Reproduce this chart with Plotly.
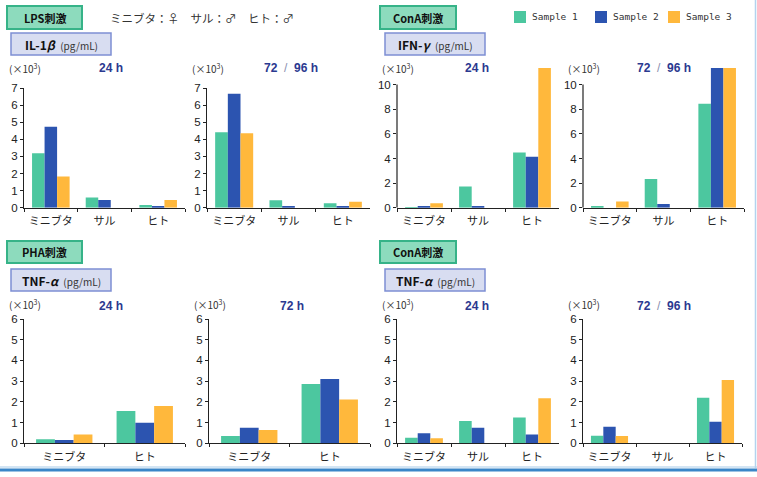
import plotly.graph_objects as go

W, H = 757, 477

# ---------------- data ----------------
cats3 = ["ミニブタ", "サル", "ヒト"]
cats2 = ["ミニブタ", "ヒト"]
series = ["Sample 1", "Sample 2", "Sample 3"]
colors = ["#4cc79f", "#2c54b0", "#ffb83c"]

il1b_24 = [[3.18, 0.60, 0.16], [4.74, 0.45, 0.07], [1.83, 0.0, 0.45]]
il1b_72 = [[4.41, 0.44, 0.26], [6.66, 0.10, 0.06], [4.35, 0.0, 0.35]]
ifn_24 = [[0.05, 1.73, 4.49], [0.08, 0.08, 4.13], [0.36, 0.0, 11.6]]
ifn_72 = [[0.14, 2.33, 8.45], [0.0, 0.30, 11.6], [0.50, 0.0, 11.6]]
tnf_pha_24 = [[0.20, 1.56], [0.16, 0.99], [0.42, 1.80]]
tnf_pha_72 = [[0.35, 2.86], [0.75, 3.10], [0.64, 2.12]]
tnf_con_24 = [[0.27, 1.08, 1.24], [0.48, 0.75, 0.43], [0.24, 0.0, 2.17]]
tnf_con_72 = [[0.37, 0.0, 2.20], [0.80, 0.0, 1.04], [0.35, 0.0, 3.06]]

yticks7 = [0, 1, 2, 3, 4, 5, 6, 7]
yticks10 = [0, 2, 4, 6, 8, 10]
yticks6 = [0, 1, 2, 3, 4, 5, 6]


def fx(px):
    return px / W


def fy(py):
    return 1 - py / H


SLASH = "72 &nbsp;<span style='color:#8a8fb0;font-weight:normal'>/</span>&nbsp; 96 h"

# panel layout: (data, cats, x0, x1, ytop, ybot, range, ticks, time label, tl_x)
panels = [
    (il1b_24, cats3, 24, 185, 88, 207.7, [0, 7], yticks7, "24 h", 97),
    (il1b_72, cats3, 207, 370, 88, 207.7, [0, 7], yticks7, SLASH, 262),
    (ifn_24, cats3, 397, 559, 68, 207.7, [0, 11.35], yticks10, "24 h", 463),
    (ifn_72, cats3, 583, 744, 68, 207.7, [0, 11.35], yticks10, SLASH, 635),
    (tnf_pha_24, cats2, 24, 185, 319, 443.3, [0, 6], yticks6, "24 h", 97),
    (tnf_pha_72, cats2, 209, 370, 319, 443.3, [0, 6], yticks6, "72 h", 278),
    (tnf_con_24, cats3, 397, 559, 319, 443.3, [0, 6], yticks6, "24 h", 463),
    (tnf_con_72, cats3, 583, 742, 319, 443.3, [0, 6], yticks6, SLASH, 635),
]

fig = go.Figure()
layout = dict(
    width=W, height=H, margin=dict(l=0, r=0, t=0, b=0, autoexpand=False),
    paper_bgcolor="white", plot_bgcolor="white",
    barmode="group", bargap=0.3, bargroupgap=0,
    font=dict(family="Noto Sans CJK JP, Liberation Sans", size=11, color="#222"),
    showlegend=False,
)
shapes = []
annotations = []

for i, (data, cats, x0, x1, yt, yb, rng, yt_vals, tlabel, tlx) in enumerate(panels):
    n = i + 1
    xa = "x" if n == 1 else f"x{n}"
    ya = "y" if n == 1 else f"y{n}"
    for s in range(3):
        fig.add_trace(go.Bar(
            x=cats, y=data[s], name=series[s],
            marker=dict(color=colors[s], line=dict(width=0)),
            xaxis=xa, yaxis=ya, offsetgroup=str(s),
            hoverinfo="skip",
        ))
    full_axis = rng[1] <= 7.01
    layout["xaxis" if n == 1 else f"xaxis{n}"] = dict(
        domain=[fx(x0), fx(x1)], anchor=ya, type="category",
        showline=True, linecolor="#222", linewidth=1.2,
        ticks="outside", tickson="boundaries", ticklen=3, tickcolor="#222",
        tickangle=0, automargin=False, ticklabelstandoff=3,
        showgrid=False, zeroline=False, fixedrange=True,
        tickfont=dict(family="Noto Sans CJK JP", size=11, color="#222"),
    )
    layout["yaxis" if n == 1 else f"yaxis{n}"] = dict(
        domain=[fy(yb), fy(yt)], anchor=xa, range=rng,
        tickvals=yt_vals, ticks="outside", ticklen=3, tickcolor="#222",
        showline=full_axis, linecolor="#222", linewidth=1.2, automargin=False,
        showgrid=False, zeroline=False, fixedrange=True,
        tickfont=dict(family="Liberation Sans", size=11.5, color="#222"),
    )
    if not full_axis:
        shapes.append(dict(type="line", xref=f"{xa} domain", yref=ya,
                           x0=0, x1=0, y0=0, y1=10,
                           line=dict(color="#222", width=1.2)))
    # (x10^3) and time labels
    ylab = 69 if i < 4 else 304
    ytl = 68 if i < 4 else 306
    annotations.append(dict(xref="paper", yref="paper", x=fx(x0 - 17), y=fy(ylab),
                            xanchor="left", yanchor="middle", showarrow=False,
                            text="(×10<sup>3</sup>)",
                            font=dict(family="Noto Sans CJK JP", size=10, color="#333")))
    annotations.append(dict(xref="paper", yref="paper", x=fx(tlx), y=fy(ytl),
                            xanchor="left", yanchor="middle", showarrow=False,
                            text=f"<b>{tlabel}</b>",
                            font=dict(family="Liberation Sans", size=12, color="#2b3990")))


def green_box(x0, y0, x1, y1, label):
    shapes.append(dict(type="rect", xref="paper", yref="paper",
                       x0=fx(x0), x1=fx(x1), y0=fy(y1), y1=fy(y0),
                       fillcolor="#8ddbbd", line=dict(color="#36b388", width=2)))
    annotations.append(dict(xref="paper", yref="paper", x=fx((x0 + x1) / 2), y=fy((y0 + y1) / 2),
                            xanchor="center", yanchor="middle", showarrow=False,
                            text=f"<b>{label}</b>",
                            font=dict(family="Noto Sans CJK JP", size=11, color="#111")))


def lav_box(x0, y0, x1, y1, bold):
    shapes.append(dict(type="rect", xref="paper", yref="paper",
                       x0=fx(x0), x1=fx(x1), y0=fy(y1), y1=fy(y0),
                       fillcolor="#d8ddf1", line=dict(color="#7d8fd3", width=1.5)))
    annotations.append(dict(xref="paper", yref="paper", x=fx((x0 + x1) / 2), y=fy((y0 + y1) / 2),
                            xanchor="center", yanchor="middle", showarrow=False,
                            text=f"<b>{bold}</b>&nbsp;&nbsp;<span style='font-size:10px;color:#333'>(pg/mL)</span>",
                            font=dict(family="Noto Sans CJK JP", size=12, color="#111")))


green_box(7, 6, 82, 29, "LPS刺激")
green_box(380, 6, 456, 29, "ConA刺激")
green_box(7, 241, 82, 263, "PHA刺激")
green_box(380, 241, 456, 263, "ConA刺激")
lav_box(11, 33, 111, 55, "IL-1<i>β</i>")
lav_box(385, 33, 485, 55, "IFN-<i>γ</i>")
lav_box(11, 269, 111, 291, "TNF-<i>α</i>")
lav_box(385, 269, 485, 291, "TNF-<i>α</i>")

annotations.append(dict(xref="paper", yref="paper", x=fx(108), y=fy(18),
                        xanchor="left", yanchor="middle", showarrow=False,
                        text="ミニブタ：♀　サル：♂　ヒト：♂",
                        font=dict(family="Noto Sans CJK JP", size=11.5, color="#333")))

# legend (drawn as keys + labels)
legend_x = [514, 595, 668]
for s in range(3):
    lx = legend_x[s]
    shapes.append(dict(type="rect", xref="paper", yref="paper",
                       x0=fx(lx), x1=fx(lx + 12), y0=fy(23), y1=fy(11),
                       fillcolor=colors[s], line=dict(width=0)))
    annotations.append(dict(xref="paper", yref="paper", x=fx(lx + 16), y=fy(17),
                            xanchor="left", yanchor="middle", showarrow=False,
                            text=series[s],
                            font=dict(family="DejaVu Sans Mono", size=9.5, color="#333")))

# frame lines
shapes.append(dict(type="line", xref="paper", yref="paper", x0=0, x1=1, y0=fy(467), y1=fy(467),
                   line=dict(color="#c4dcf0", width=1.5)))
shapes.append(dict(type="line", xref="paper", yref="paper", x0=0, x1=1, y0=fy(470), y1=fy(470),
                   line=dict(color="#3a86c8", width=3)))
shapes.append(dict(type="line", xref="paper", yref="paper", x0=fx(755.5), x1=fx(755.5), y0=fy(0), y1=fy(468),
                   line=dict(color="#b3d3ee", width=1.5)))

layout["shapes"] = shapes
layout["annotations"] = annotations
fig.update_layout(**layout)
fig.write_html("out.html")
